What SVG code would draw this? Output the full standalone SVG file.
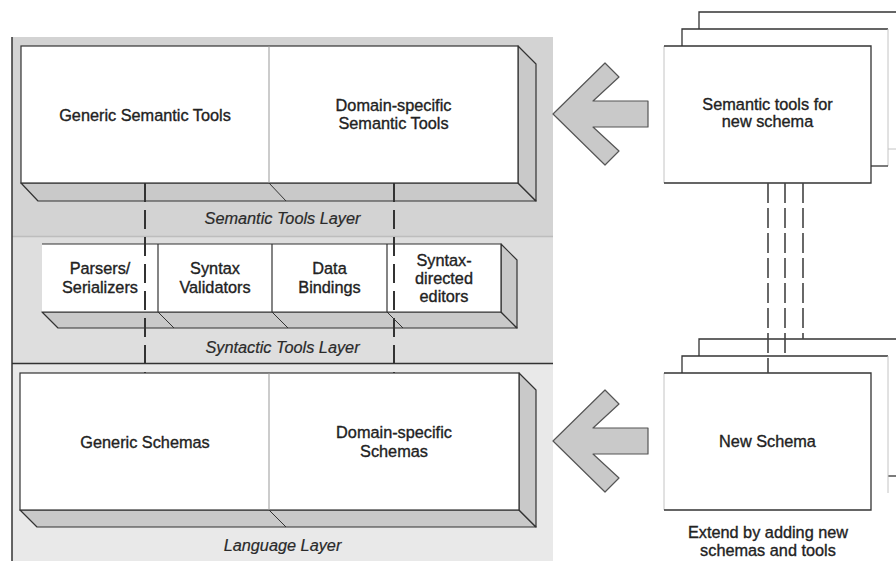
<svg xmlns="http://www.w3.org/2000/svg" width="896" height="561" viewBox="0 0 896 561">
  <defs>
    <style>
      .t { font-family: "Liberation Sans", Arial, sans-serif; font-size: 16.3px; fill: #222; text-anchor: middle; stroke: #222; stroke-width: 0.35px; }
      .lbl { font-family: "Liberation Sans", Arial, sans-serif; font-size: 16.3px; font-style: italic; fill: #2a2a2a; text-anchor: middle; stroke: #2a2a2a; stroke-width: 0.2px; }
      .front { fill: #fff; stroke: #333; stroke-width: 1.2; }
      .face { fill: #c9c9c9; stroke: #333; stroke-width: 1.2; stroke-linejoin: round; }
      .edge { fill: none; stroke: #333; stroke-width: 1; }
      .div-lt { fill: none; stroke: #999; stroke-width: 1; }
      .div-dk { fill: none; stroke: #333; stroke-width: 1.2; }
      .card { fill: #fff; stroke: none; }
      .card-dk { fill: none; stroke: #333; stroke-width: 1.3; }
      .card-lt { fill: none; stroke: #c4c4c4; stroke-width: 1; }
      .dash-l { fill: none; stroke: #333; stroke-width: 2; stroke-dasharray: 19 8; }
      .dash-r { fill: none; stroke: #444; stroke-width: 1.6; stroke-dasharray: 20 5; }
      .blk { fill: #c9c9c9; stroke: #555; stroke-width: 1.2; stroke-linejoin: round; }
    </style>
  </defs>

  <rect width="896" height="561" fill="#fff"/>

  <!-- layer bands -->
  <g id="layers">
    <rect x="12" y="37" width="541" height="199" fill="#d3d3d3"/>
    <rect x="12" y="236" width="541" height="127" fill="#dedede"/>
    <rect x="12" y="363" width="541" height="198" fill="#e9e9e9"/>
    <line x1="12" y1="236.5" x2="553" y2="236.5" stroke="#bdbdbd" stroke-width="1.5"/>
    <line x1="12" y1="363.5" x2="553" y2="363.5" stroke="#333" stroke-width="1.3"/>
    <line x1="12" y1="37" x2="12" y2="561" stroke="#333" stroke-width="1.5"/>
    <text class="lbl" x="282.5" y="224">Semantic Tools Layer</text>
    <text class="lbl" x="282.5" y="353">Syntactic Tools Layer</text>
    <text class="lbl" x="282.5" y="551">Language Layer</text>
  </g>

  <!-- semantic tools block -->
  <g id="semantic-tools">
    <polygon class="face" points="21,183 518,183 536,201 38,201"/>
    <polygon class="face" points="518,46 536,64 536,201 518,183"/>
    <rect class="front" x="21" y="46" width="497" height="137"/>
    <line class="div-lt" x1="269" y1="46" x2="269" y2="183"/>
    <line class="edge" x1="269" y1="183" x2="286" y2="201"/>
    <g id="generic-semantic-tools">
      <text class="t" x="145" y="121">Generic Semantic Tools</text>
    </g>
    <g id="domain-semantic-tools">
      <text class="t" x="393.5" y="111">Domain-specific</text>
      <text class="t" x="393.5" y="129">Semantic Tools</text>
    </g>
  </g>

  <!-- syntactic tools block -->
  <g id="syntactic-tools">
    <polygon class="face" points="42,312 501,312 517,328 58,328"/>
    <polygon class="face" points="501,244 517,260 517,328 501,312"/>
    <rect x="42" y="244" width="459" height="68" fill="#fff"/>
    <path class="div-dk" d="M42,244 H501 V312 H42"/>
    <line class="div-dk" x1="158" y1="244" x2="158" y2="312"/>
    <line class="div-dk" x1="272" y1="244" x2="272" y2="312"/>
    <line class="div-dk" x1="387" y1="244" x2="387" y2="312"/>
    <line class="edge" x1="158" y1="312" x2="174" y2="328"/>
    <line class="edge" x1="272" y1="312" x2="288" y2="328"/>
    <line class="edge" x1="387" y1="312" x2="403" y2="328"/>
    <g id="parsers">
      <text class="t" x="100" y="274">Parsers/</text>
      <text class="t" x="100" y="293">Serializers</text>
    </g>
    <g id="validators">
      <text class="t" x="215" y="274">Syntax</text>
      <text class="t" x="215" y="293">Validators</text>
    </g>
    <g id="bindings">
      <text class="t" x="329.5" y="274">Data</text>
      <text class="t" x="329.5" y="293">Bindings</text>
    </g>
    <g id="editors">
      <text class="t" x="444" y="266">Syntax-</text>
      <text class="t" x="444" y="284">directed</text>
      <text class="t" x="444" y="302">editors</text>
    </g>
  </g>

  <!-- language block -->
  <g id="language">
    <polygon class="face" points="20,510 519,510 536,527 37,527"/>
    <polygon class="face" points="519,373 536,390 536,527 519,510"/>
    <rect class="front" x="20" y="373" width="499" height="137"/>
    <line class="div-lt" x1="269" y1="373" x2="269" y2="510"/>
    <line class="edge" x1="269" y1="510" x2="286" y2="527"/>
    <g id="generic-schemas">
      <text class="t" x="145" y="448">Generic Schemas</text>
    </g>
    <g id="domain-schemas">
      <text class="t" x="394" y="438">Domain-specific</text>
      <text class="t" x="394" y="457">Schemas</text>
    </g>
  </g>

  <!-- stack: semantic tools for new schema -->
  <g id="new-tools-stack">
    <rect class="card" x="699" y="12" width="210" height="137"/>
    <path class="card-dk" d="M699,149 V12 H896"/>
    <path class="card-lt" d="M888,149 H896"/>
    <rect class="card" x="682" y="29" width="206" height="137"/>
    <path class="card-dk" d="M682,166 V29 H888"/>
    <path class="card-lt" d="M888,29 V166"/>
    <path class="card-dk" d="M871,166 H888"/>
    <rect class="card" x="664" y="46" width="207" height="137"/>
    <path class="card-lt" d="M664,46 V183"/>
    <path class="card-dk" d="M664,46 H871 V183 H664"/>
    <text class="t" x="767.5" y="110">Semantic tools for</text>
    <text class="t" x="767.5" y="127">new schema</text>
  </g>

  <!-- stack: new schema -->
  <g id="new-schema-stack">
    <rect class="card" x="699" y="339" width="210" height="137"/>
    <path class="card-dk" d="M699,476 V339 H896"/>
    <path class="card-dk" d="M888,476 H896"/>
    <rect class="card" x="682" y="356" width="206" height="137"/>
    <path class="card-dk" d="M682,493 V356 H888"/>
    <path class="card-lt" d="M888,356 V493"/>
    <rect class="card" x="664" y="373" width="207" height="137"/>
    <path class="card-lt" d="M664,373 V510"/>
    <path class="card-dk" d="M664,373 H871 V510 H664"/>
    <text class="t" x="767.5" y="447">New Schema</text>
  </g>

  <g id="caption">
    <text class="t" x="768" y="538">Extend by adding new</text>
    <text class="t" x="768" y="556">schemas and tools</text>
  </g>

  <!-- connectors -->
  <g id="connectors">
    <line class="dash-l" x1="145" y1="183" x2="145" y2="373"/>
    <line class="dash-l" x1="394" y1="183" x2="394" y2="373"/>
    <line class="dash-r" x1="768" y1="183" x2="768" y2="373"/>
    <line class="dash-r" x1="785" y1="183" x2="785" y2="356"/>
    <line class="dash-r" x1="803" y1="183" x2="803" y2="339"/>
    <polygon class="blk" points="553,114 605,63 619,77 593,101 648,101 648,127 593,127 619,151 605,165"/>
    <polygon class="blk" points="553,441 605,390 619,404 593,428 648,428 648,454 593,454 619,478 605,492"/>
  </g>
</svg>
